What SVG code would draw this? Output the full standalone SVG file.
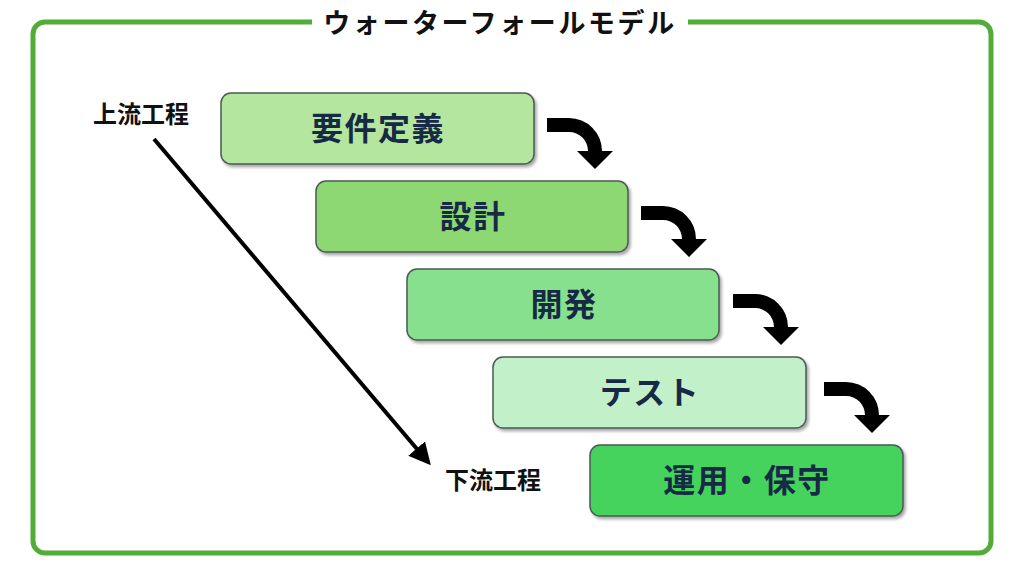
<svg xmlns="http://www.w3.org/2000/svg" width="1024" height="576" viewBox="0 0 1024 576">
<defs>
<filter id="sh" x="-10%" y="-20%" width="130%" height="150%">
<feDropShadow dx="2" dy="2.5" stdDeviation="1.5" flood-color="#000" flood-opacity="0.35"/>
</filter>
<marker id="ah" viewBox="0 0 10 10" refX="8" refY="5" markerWidth="5.5" markerHeight="5.5" orient="auto" markerUnits="strokeWidth">
<path d="M0,0 L10,5 L0,10 z" fill="#000"/>
</marker>
<path id="curve" d="M0,-7 L22,-7 A33,33 0 0 1 55,26 L66,26 L48,44 L30,26 L41,26 A19,19 0 0 0 22,7 L0,7 z"/>
</defs>
<style>
.box{stroke:#4b5a55;stroke-width:1.5;filter:url(#sh)}
.bt{font-family:"Noto Sans CJK JP","Noto Sans",sans-serif;font-weight:bold;font-size:32px;letter-spacing:1.5px;fill:#172a45;text-anchor:middle;dominant-baseline:central}
.lb{font-family:"Noto Sans CJK JP","Noto Sans",sans-serif;font-weight:bold;font-size:24px;fill:#111;text-anchor:middle;dominant-baseline:central}
.title{font-family:"Noto Sans CJK JP","Noto Sans",sans-serif;font-weight:bold;font-size:27px;fill:#111;text-anchor:middle;dominant-baseline:central;letter-spacing:2.6px}
</style>
<rect width="1024" height="576" fill="#fff"/>
<g id="frame">
<rect x="33" y="22" width="958" height="531" rx="12" fill="none" stroke="#52ac38" stroke-width="5"/>
<rect x="312" y="10" width="376" height="26" fill="#fff"/>
<text class="title" x="500" y="21">ウォーターフォールモデル</text>
</g>
<g id="n1"><rect class="box" x="221" y="93" width="313" height="71" rx="10" fill="#b4e6a0"/><text class="bt" x="378" y="126">要件定義</text></g>
<g id="n2"><rect class="box" x="316" y="181" width="312" height="71" rx="10" fill="#8ed873"/><text class="bt" x="473" y="214">設計</text></g>
<g id="n3"><rect class="box" x="407" y="269" width="312" height="71" rx="10" fill="#86e08e"/><text class="bt" x="564" y="302">開発</text></g>
<g id="n4"><rect class="box" x="493" y="357" width="313" height="71" rx="10" fill="#c2f0c8"/><text class="bt" x="650" y="390">テスト</text></g>
<g id="n5"><rect class="box" x="590" y="445" width="313" height="71" rx="10" fill="#45d35d"/><text class="bt" x="747" y="478">運用・保守</text></g>
<g id="labels">
<text class="lb" x="141" y="112">上流工程</text>
<text class="lb" x="493" y="478">下流工程</text>
</g>
<g id="connectors" fill="#000">
<use href="#curve" x="547" y="125"/>
<use href="#curve" x="641" y="213"/>
<use href="#curve" x="733" y="301"/>
<use href="#curve" x="824" y="389"/>
<line x1="154" y1="139" x2="428" y2="462" stroke="#000" stroke-width="4" marker-end="url(#ah)"/>
</g>
</svg>
